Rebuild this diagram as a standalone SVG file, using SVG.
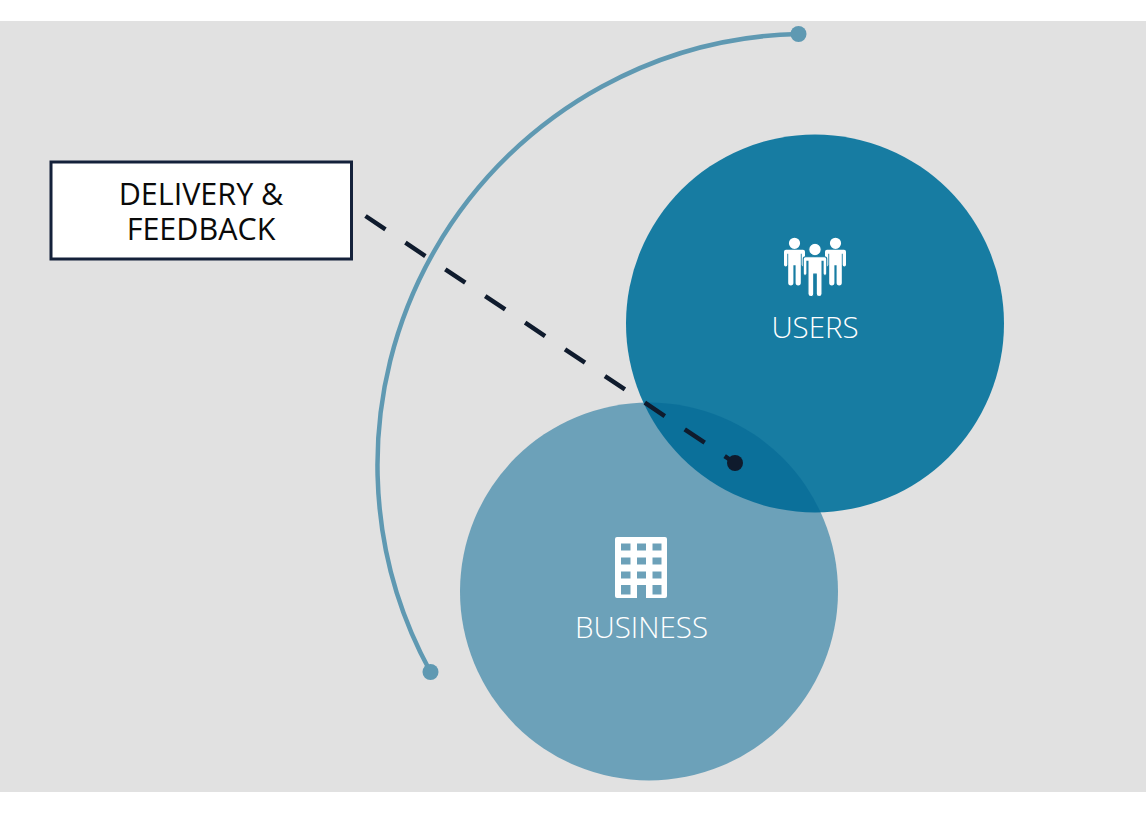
<svg xmlns="http://www.w3.org/2000/svg" width="1146" height="813" viewBox="0 0 1146 813">
<style>
.lbl{font-family:"Open Sans","Liberation Sans",sans-serif;text-anchor:middle}
.thin{font-size:29.500px;font-weight:300}
.big{font-size:30.500px;font-weight:400}
.w{fill:#fff}
.pt{fill:#5f99b2}
</style>
<defs>
<path id="person" d="M-8.500 6.500H8.500a2 2 0 0 1 2 2V21.500a1.650 1.650 0 0 1-3.300 0V10.500H6.300V39.500a2.600 2.600 0 0 1-5.200 0V22H-1.100V39.500a2.600 2.600 0 0 1-5.200 0V10.500H-7.200V21.500a1.650 1.650 0 0 1-3.300 0V8.500a2 2 0 0 1 2-2ZM0 -5.600a5.600 5.600 0 1 1 0 11.200a5.600 5.600 0 1 1 0-11.200Z"/>
</defs>
<rect id="background" x="0" y="21" width="1146" height="771" fill="#e1e1e1"/>
<g id="users"><circle cx="815" cy="323.500" r="189" fill="#177ca2"/></g>
<g id="business"><circle cx="649" cy="591.500" r="189" fill="#006593" fill-opacity="0.52"/></g>
<g id="connectors" fill="none">
<path d="M798.500 34A431 431 0 0 0 430.500 672" stroke="#5f99b2" stroke-width="4.500"/>
<path d="M365.500 216L735 463" stroke="#0f1b2d" stroke-width="4.500" stroke-dasharray="24 24"/>
</g>
<g id="arc-start"><circle class="pt" cx="798.500" cy="34" r="8"/></g>
<g id="arc-end"><circle class="pt" cx="430.500" cy="672" r="8"/></g>
<g id="pointer"><circle cx="735" cy="463" r="8" fill="#0f1b2d"/></g>
<g id="users-icon" class="w">
<use href="#person" transform="translate(794.500 243.300)"/>
<use href="#person" transform="translate(835.500 243.300)"/>
<use href="#person" transform="translate(815 249.500) scale(1.120)" stroke="#177ca2" stroke-width="1"/>
</g>
<text class="lbl thin w" x="815" y="338">USERS</text>
<g id="business-icon">
<path class="w" fill-rule="evenodd" d="M617 537H665a2 2 0 0 1 2 2V596a2 2 0 0 1-2 2H617a2 2 0 0 1-2-2V539a2 2 0 0 1 2-2ZM621 543.500V550.500H630.500V543.500ZM637 543.500V550.500H646V543.500ZM652.500 543.500V550.500H661.500V543.500ZM621 557.500V564.500H630.500V557.500ZM637 557.500V564.500H646V557.500ZM652.500 557.500V564.500H661.500V557.500ZM621 571.500V578.500H630.500V571.500ZM637 571.500V578.500H646V571.500ZM652.500 571.500V578.500H661.500V571.500ZM621 585V594.500H630.500V585ZM637 585V598H646V585ZM652.500 585V594.500H661.500V585Z"/>
</g>
<text class="lbl thin w" x="641.500" y="637.500">BUSINESS</text>
<g id="delivery-feedback">
<rect x="51" y="162" width="300.500" height="97" fill="#fff" stroke="#14213a" stroke-width="3"/>
<text class="lbl big" fill="#0a0a0a"><tspan x="201" y="204.500">DELIVERY &amp;</tspan><tspan x="201" y="239.500">FEEDBACK</tspan></text>
</g>
</svg>
